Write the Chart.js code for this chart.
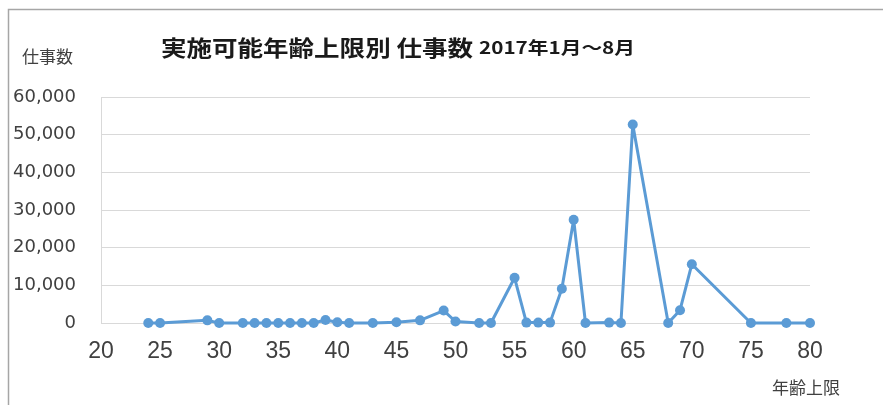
<!DOCTYPE html>
<html>
<head>
<meta charset="utf-8">
<script src="https://cdn.jsdelivr.net/npm/chart.js@4"></script>
<style>
  html, body { margin: 0; padding: 0; background: #ffffff; }
  #wrap { position: relative; width: 883px; height: 405px; }
</style>
</head>
<body>
<div id="wrap"><canvas id="c" width="883" height="405"></canvas></div>
<script>
// ---- data ----
const ages = [24,25,29,30,32,33,34,35,36,37,38,39,40,41,43,45,47,49,50,52,53,55,56,57,58,59,60,61,63,64,65,68,69,70,75,78,80];
const jobs = [0,0,700,0,0,0,0,0,0,0,0,800,200,0,0,200,700,3300,400,0,0,12000,100,100,100,9100,27400,0,100,0,52700,0,3400,15600,0,0,0];
const xTicks = [20,25,30,35,40,45,50,55,60,65,70,75,80];
const yTicks = [0,10000,20000,30000,40000,50000,60000];
const titleMain = "実施可能年齢上限別 仕事数";
const titleSub = "2017年1月～8月";
const yTitle = "仕事数";
const xTitle = "年齢上限";

const CJK = '"Noto Sans CJK JP", "Noto Sans CJK SC", sans-serif';

function drawFitted(ctx, text, font, x, y, targetW, color) {
  ctx.save();
  ctx.font = font;
  ctx.fillStyle = color;
  ctx.textBaseline = 'middle';
  ctx.textAlign = 'left';
  const w = ctx.measureText(text).width;
  const s = targetW / w;
  ctx.translate(x, y);
  ctx.scale(s, 1);
  ctx.fillText(text, 0, 0);
  ctx.restore();
}

const decor = {
  id: 'decor',
  beforeDraw(chart) {
    const ctx = chart.ctx;
    ctx.save();
    ctx.fillStyle = '#ffffff';
    ctx.fillRect(0, 0, chart.width, chart.height);
    ctx.strokeStyle = '#a6a6a6';
    ctx.lineWidth = 1.5;
    ctx.beginPath();
    ctx.moveTo(8.5, 405);
    ctx.lineTo(8.5, 9.5);
    ctx.lineTo(883, 9.5);
    ctx.stroke();
    ctx.restore();
  },
  afterDraw(chart) {
    const ctx = chart.ctx;
    drawFitted(ctx, titleMain, 'bold 22px ' + CJK, 161, 48, 312, '#1a1a1a');
    drawFitted(ctx, titleSub, 'bold 17px ' + CJK, 479, 48, 156, '#1a1a1a');
    drawFitted(ctx, yTitle, '17px ' + CJK, 22, 57, 51, '#404040');
    drawFitted(ctx, xTitle, '17px ' + CJK, 772, 388, 68, '#404040');
  }
};

new Chart(document.getElementById('c'), {
  type: 'line',
  data: {
    datasets: [{
      data: ages.map((a, i) => ({ x: a, y: jobs[i] })),
      borderColor: '#5b9bd5',
      backgroundColor: '#5b9bd5',
      borderWidth: 3,
      borderJoinStyle: 'round',
      borderCapStyle: 'round',
      pointRadius: 5,
      pointBorderWidth: 0,
      pointBackgroundColor: '#5b9bd5',
      tension: 0,
      fill: false,
      clip: false
    }]
  },
  options: {
    responsive: false,
    animation: false,
    devicePixelRatio: 1,
    layout: { padding: { left: 0, right: 73, top: 97, bottom: 0 } },
    plugins: { legend: { display: false }, tooltip: { enabled: false }, title: { display: false } },
    scales: {
      x: {
        type: 'linear',
        min: 20, max: 80,
        afterBuildTicks(scale) { scale.ticks = xTicks.map(v => ({ value: v })); },
        afterFit(scale) { scale.height = 82; },
        grid: { display: false, drawTicks: false },
        border: { display: false },
        ticks: {
          padding: 15,
          color: '#404040',
          font: { family: '"Liberation Sans", Arial, sans-serif', size: 23 },
          maxRotation: 0
        }
      },
      y: {
        min: 0, max: 60000,
        afterBuildTicks(scale) { scale.ticks = yTicks.map(v => ({ value: v })); },
        afterFit(scale) { scale.width = 101; },
        grid: { color: '#d9d9d9', lineWidth: 1, drawTicks: false },
        border: { display: true, color: '#d9d9d9', width: 1 },
        ticks: {
          padding: 25,
          color: '#404040',
          font: { family: '"DejaVu Sans", sans-serif', size: 18 },
          callback: v => v.toLocaleString('en-US')
        }
      }
    }
  },
  plugins: [decor]
});
</script>
</body>
</html>
